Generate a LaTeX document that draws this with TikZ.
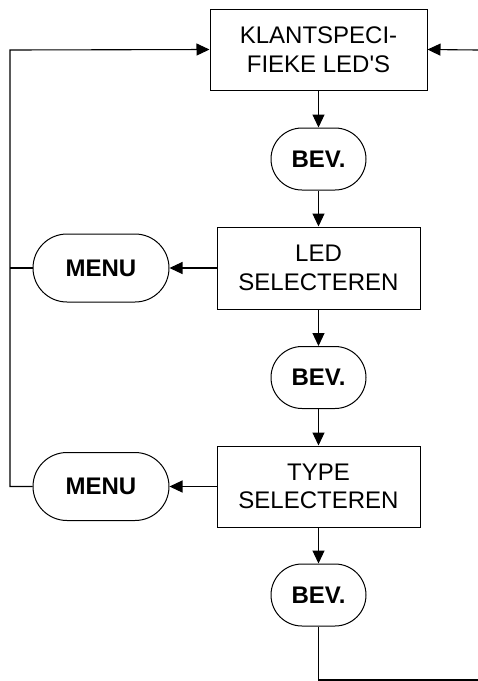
\documentclass[tikz,border=0pt]{standalone}
\usepackage{fontspec}
\setmainfont{Liberation Sans}
\newfontfamily\rechtfont{Liberation Sans}
\usetikzlibrary{arrows.meta}

\tikzset{
  stapbox/.style={draw, line width=1pt, inner sep=0pt, align=center,
    font=\fontsize{24}{28.5}\selectfont},
  bevbox/.style={draw, line width=1pt, inner sep=0pt, rounded corners=31pt,
    minimum width=95, minimum height=62, font=\fontsize{24}{28.5}\selectfont\bfseries},
  menubox/.style={draw, line width=1pt, inner sep=0pt, rounded corners=34pt,
    minimum width=136, minimum height=68, font=\fontsize{24}{28.5}\selectfont\bfseries},
  flow/.style={line width=1.1pt, -{Triangle[length=13pt,width=12pt]}},
  lijn/.style={line width=1.1pt}
}

\begin{document}
\begin{tikzpicture}[x=1pt, y=-1pt]
\useasboundingbox (0,0) rectangle (478,681);
\node[stapbox, minimum width=217, minimum height=81] (klant) at (318.5,49.5) {KLANTSPECI-\\FIEKE LED{\rechtfont'}S};
\node[bevbox] (bev1) at (318.5,159) {BEV.};
\node[stapbox, minimum width=203, minimum height=82] (led) at (318.5,268) {LED\\SELECTEREN};
\node[menubox] (menu1) at (101,268) {MENU};
\node[bevbox] (bev2) at (318.5,377.5) {BEV.};
\node[stapbox, minimum width=203, minimum height=81] (type) at (318.5,486.5) {TYPE\\SELECTEREN};
\node[menubox] (menu2) at (101,486.5) {MENU};
\node[bevbox] (bev3) at (318.5,595) {BEV.};
\coordinate (lt) at (10,50);
\coordinate (rt) at (478,50);
\coordinate (rb) at (478,680);
% hoofdlijn
\draw[flow] (klant) -- (bev1);
\draw[flow] (bev1) -- (led);
\draw[flow] (led) -- (bev2);
\draw[flow] (bev2) -- (type);
\draw[flow] (type) -- (bev3);
% menu terug
\draw[flow] (led) -- (menu1);
\draw[flow] (type) -- (menu2);
\draw[flow] (menu2.west) -| (lt) -- (klant.west);
\draw[lijn] (menu1.west) -- (menu1.west -| lt);
% van rechts
\draw[flow] (rt) -- (klant.east);
\draw[lijn] (bev3.south) |- (rb);
\end{tikzpicture}
\end{document}
